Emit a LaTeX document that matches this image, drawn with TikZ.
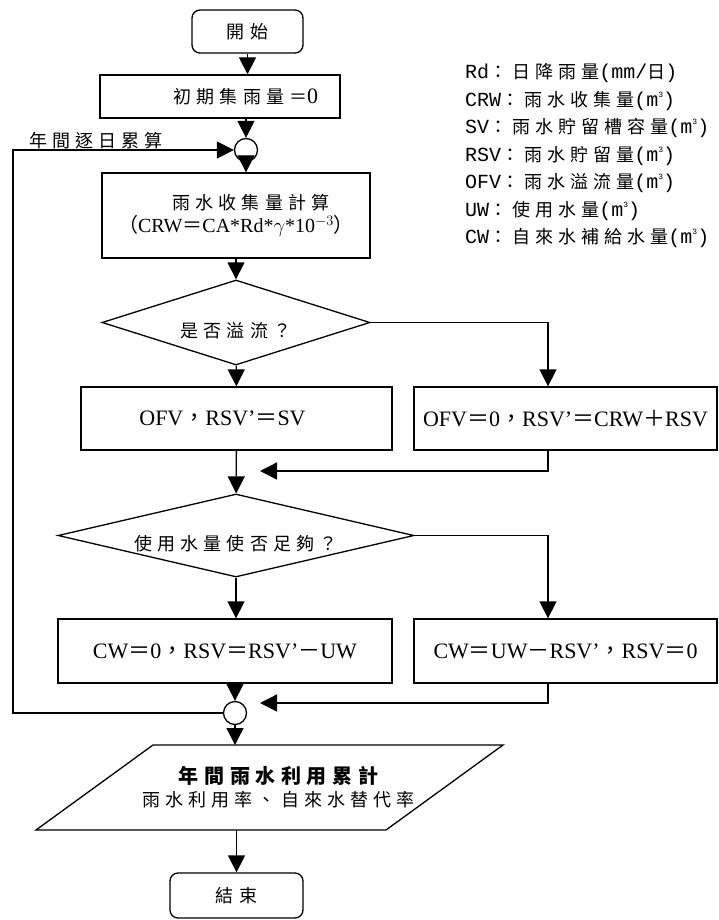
\documentclass[tikz,border=0pt]{standalone}
\usepackage{fontspec}
\setmainfont{Liberation Serif}
\newfontfamily\zhfont[LetterSpace=28]{Noto Sans CJK TC}
\newfontfamily\zhpunct{Noto Sans CJK TC}
\newfontfamily\legfont{Liberation Mono}
\usetikzlibrary{arrows.meta,shapes.geometric}

\newcommand{\zhtxt}[1]{{\zhfont\fontsize{18}{21}\selectfont #1}}
\newcommand{\fwp}[1]{{\zhpunct #1}}
\newcommand{\mcube}{m\raisebox{0.45em}{\fontsize{8}{8}\selectfont 3}}
\newcommand{\lowtxt}[1]{\raisebox{-15pt}[0pt][0pt]{\zhtxt{#1}}}

\tikzset{
  stopbox/.style={
    draw,
    rounded corners=8pt,
    line width=1.3pt,
    inner sep=0pt
  },
  procbox/.style={
    draw,
    line width=1.3pt,
    inner sep=0pt,
    align=center,
    font=\fontsize{22}{26}\selectfont
  },
  decbox/.style={
    diamond,
    draw,
    line width=1.3pt,
    inner sep=0pt,
    shape aspect=4
  },
  iobox/.style={draw=none,inner sep=0pt,outer sep=0pt,align=center},
  ioline/.style={line width=1.3pt},
  joint/.style={circle,draw,line width=1.3pt,minimum size=23pt,inner sep=0pt},
  flowar/.style={-{Triangle[length=17pt,width=17pt]},line width=1.3pt},
  legline/.style={anchor=west,inner sep=0pt,font=\legfont\fontsize{20}{24}\selectfont}
}

\begin{document}
\begin{tikzpicture}[x=1pt,y=-1pt]
  \useasboundingbox (0,0) rectangle (719,920);

  \node[stopbox, minimum width=111pt, minimum height=43pt] (start) at (247.5,31.5) {\zhtxt{開始}};
  \node[procbox, minimum width=240pt, minimum height=43pt] (init) at (220,96.5) {\hspace*{52pt}\zhtxt{初期集雨量＝}0};
  \node[joint] (jn1) at (246,150) {};
  \node[procbox, minimum width=268pt, minimum height=85pt] (crw) at (236,215.5)
    {\hspace*{30pt}\zhtxt{雨水收集量計算}\\[-3pt]
     {\fontsize{20}{24}\selectfont\fwp{（}CRW\fwp{＝}CA*Rd*$\gamma$*10$^{-3}$\fwp{）}}};
  \node[decbox, minimum width=268pt, minimum height=85pt] (dec1) at (236,322.5) {\lowtxt{是否溢流？}};
  \node[procbox, minimum width=311pt, minimum height=63pt] (ofv) at (236.5,418.5)
    {OFV\fwp{，}RSV’\fwp{＝}SV\hspace*{28pt}};
  \node[procbox, minimum width=303pt, minimum height=63pt] (ofvz) at (565.5,418.5)
    {OFV\fwp{＝}0\fwp{，}RSV’\fwp{＝}CRW\fwp{＋}RSV};
  \node[decbox, minimum width=356pt, minimum height=83pt] (dec2) at (236,535.5) {\lowtxt{使用水量使否足夠？}};
  \node[procbox, minimum width=334pt, minimum height=64pt] (cwzero) at (225,651)
    {CW\fwp{＝}0\fwp{，}RSV\fwp{＝}RSV’\fwp{－}UW};
  \node[procbox, minimum width=303pt, minimum height=64pt] (cwuse) at (565.5,651)
    {CW\fwp{＝}UW\fwp{－}RSV’\fwp{，}RSV\fwp{＝}0};
  \node[joint] (jn2) at (235,713) {};
  \node[iobox, minimum width=467pt, minimum height=85pt] (sum) at (269.5,787.5)
    {\hspace*{18pt}\zhtxt{\bfseries\fontsize{20}{24}\selectfont 年間雨水利用累計}\\[5pt]
     \hspace*{18pt}\zhtxt{雨水利用率、自來水替代率}};
  \node[stopbox, minimum width=133pt, minimum height=45pt] (finish) at (236.5,895.5) {\zhtxt{結束}};

  \node[anchor=south west, inner sep=1pt] (looplbl) at (28,150) {\zhtxt{年間逐日累算}};

  \node[legline] (lgRd)  at (465,73)    {Rd\zhtxt{：日降雨量}(mm/\zhtxt{日})};
  \node[legline] (lgCRW) at (465,100.5) {CRW\zhtxt{：雨水收集量}(\mcube)};
  \node[legline] (lgSV)  at (465,128)   {SV\zhtxt{：雨水貯留槽容量}(\mcube)};
  \node[legline] (lgRSV) at (465,155.5) {RSV\zhtxt{：雨水貯留量}(\mcube)};
  \node[legline] (lgOFV) at (465,183)   {OFV\zhtxt{：雨水溢流量}(\mcube)};
  \node[legline] (lgUW)  at (465,210.5) {UW\zhtxt{：使用水量}(\mcube)};
  \node[legline] (lgCW)  at (465,238)   {CW\zhtxt{：自來水補給水量}(\mcube)};

  \coordinate (rcol)  at (548,0);
  \coordinate (loopx) at (13,0);
  \coordinate (mrg1)  at (260,471);
  \coordinate (mrg2)  at (260,703);

  \draw[ioline] ([xshift=117pt]sum.north west) -- (sum.north east)
    -- ([xshift=-117pt]sum.south east) -- (sum.south west) -- cycle;

  \draw[flowar] (start.south) -- (start.south |- init.north);
  \draw[flowar] (init.south -| jn1) -- (jn1.north);
  \draw[flowar] (jn1.south) -- (jn1.south |- crw.north);
  \draw[flowar] (crw) -- (dec1);
  \draw[flowar] (dec1) -- (ofv);
  \draw[flowar] (dec1.east) -| (ofvz.north -| rcol);
  \draw[flowar] (ofvz.south -| rcol) |- (mrg1);
  \draw[flowar] (ofv) -- (dec2);
  \draw[flowar] (dec2.south) -- (dec2.south |- cwzero.north);
  \draw[flowar] (dec2.east) -| (cwuse.north -| rcol);
  \draw[flowar] (cwuse.south -| rcol) |- (mrg2);
  \draw[flowar] (cwzero.south -| jn2) -- (jn2.north);
  \draw[flowar] (jn2.west) -| (loopx |- jn1) -- (jn1.west);
  \draw[flowar] (jn2.south) -- (jn2.south |- sum.north);
  \draw[flowar] (sum.south -| finish) -- (finish.north);
\end{tikzpicture}
\end{document}
